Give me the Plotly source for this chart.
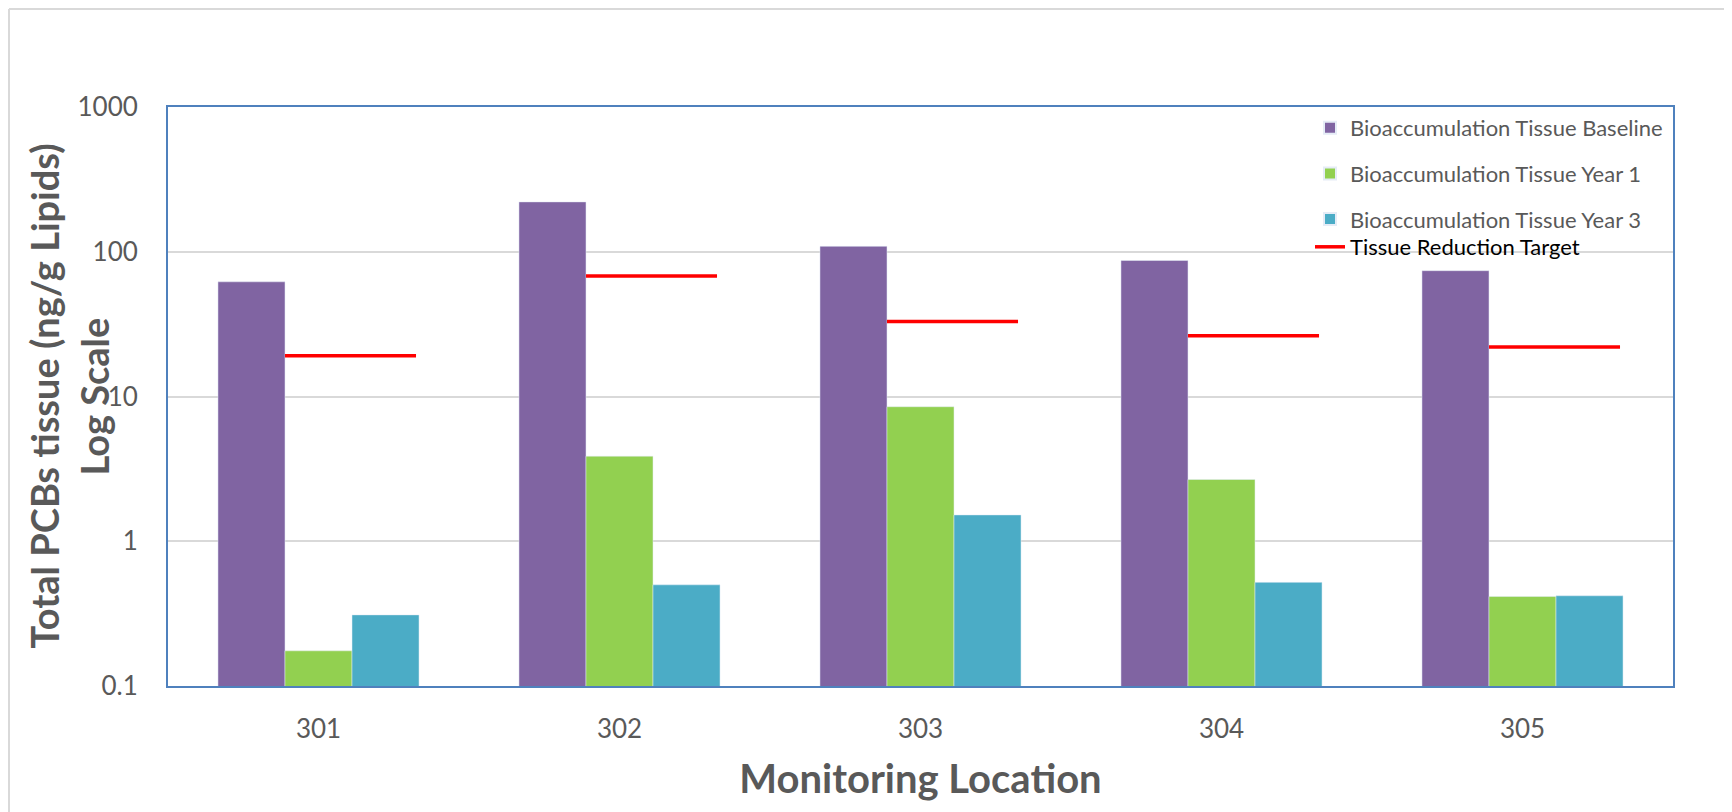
import plotly.graph_objects as go

locations = ["301", "302", "303", "304", "305"]
baseline = [62, 221, 109, 87, 74]
year1 = [0.175, 3.87, 8.5, 2.67, 0.415]
year3 = [0.31, 0.50, 1.52, 0.52, 0.42]
target = [19.1, 68, 33, 26.3, 22]

y_tickvals = [0.1, 1, 10, 100, 1000]
y_ticktext = ["0.1", "1", "10", "100", "1000"]

pos = list(range(len(locations)))
BARGAP = 0.332
bw = (1 - BARGAP) / 3

# target segments: from right edge of baseline bar to right edge of year-3 bar
tx, ty = [], []
for p, t in zip(pos, target):
    tx += [p - bw / 2, p + 1.5 * bw - 0.01, None]
    ty += [t, t, None]

GRAY = "#595959"
FONT = "Lato"

W, H = 1732, 812
ML, MR, MT, MB = 160, 67, 99, 134
PW, PH = W - ML - MR, H - MT - MB


def px_x(v):
    return (v - ML) / PW


def px_y(v):
    return (H - MB - v) / PH


fig = go.Figure()
fig.add_trace(go.Bar(x=pos, y=baseline, name="Bioaccumulation Tissue Baseline",
                     marker_color="#8064A2", legendgroup="a", legend="legend"))
fig.add_trace(go.Bar(x=pos, y=year1, name="Bioaccumulation Tissue Year 1",
                     marker_color="#92D050", legendgroup="b", legend="legend"))
fig.add_trace(go.Bar(x=pos, y=year3, name="Bioaccumulation Tissue Year 3",
                     marker_color="#4BACC6", legendgroup="c", legend="legend"))
fig.add_trace(go.Scatter(x=tx, y=ty, mode="lines", name="Tissue Reduction Target",
                         line=dict(color="#FF0000", width=3.5), legend="legend2"))

fig.update_layout(
    width=W, height=H,
    margin=dict(l=ML, r=MR, t=MT, b=MB, autoexpand=False),
    paper_bgcolor="white", plot_bgcolor="white",
    barmode="group", bargap=BARGAP, bargroupgap=0,
    font=dict(family=FONT, color=GRAY),
    legend=dict(x=px_x(1302), y=1.0, xanchor="left", yanchor="top",
                font=dict(size=22, color=GRAY, family=FONT),
                bgcolor="rgba(0,0,0,0)", tracegroupgap=14, traceorder="grouped",
                itemsizing="constant"),
    legend2=dict(x=px_x(1302), y=px_y(239), xanchor="left", yanchor="middle",
                 font=dict(size=22, color="black", family=FONT),
                 bgcolor="rgba(0,0,0,0)"),
    xaxis=dict(range=[-0.5, 4.5], tickvals=pos, ticktext=locations,
               showgrid=False, showline=True, mirror=True, linecolor="#4F81BD", linewidth=2,
               ticks="outside", ticklen=19, tickcolor="rgba(0,0,0,0)",
               tickfont=dict(size=26, color=GRAY, family=FONT),
               title=dict(text="<b>Monitoring Location</b>", standoff=22,
                          font=dict(size=40, color=GRAY, family=FONT)),
               zeroline=False, automargin=False),
    yaxis=dict(type="log", range=[-1, 3], tickvals=y_tickvals, ticktext=y_ticktext,
               showgrid=True, gridcolor="#D9D9D9", gridwidth=2,
               showline=True, mirror=True, linecolor="#4F81BD", linewidth=2,
               ticks="outside", ticklen=23, tickcolor="rgba(0,0,0,0)",
               tickfont=dict(size=26, color=GRAY, family=FONT),
               zeroline=False, automargin=False),
    annotations=[
        dict(text="<b>Total PCBs tissue (ng/g Lipids)</b>", textangle=-90,
             xref="paper", yref="paper", x=px_x(35), y=0.5, xanchor="center", yanchor="middle",
             showarrow=False, font=dict(size=38, color=GRAY, family=FONT)),
        dict(text="<b>Log Scale</b>", textangle=-90,
             xref="paper", yref="paper", x=px_x(85), y=0.5, xanchor="center", yanchor="middle",
             showarrow=False, font=dict(size=38, color=GRAY, family=FONT)),
    ],
    shapes=[
        dict(type="line", xref="paper", yref="paper", x0=px_x(1), x1=1.1, y0=px_y(1), y1=px_y(1),
             line=dict(color="#D9D9D9", width=2)),
        dict(type="line", xref="paper", yref="paper", x0=px_x(1), x1=px_x(1), y0=px_y(1), y1=-0.3,
             line=dict(color="#D9D9D9", width=2)),
    ],
)

fig.write_html("out.html")
